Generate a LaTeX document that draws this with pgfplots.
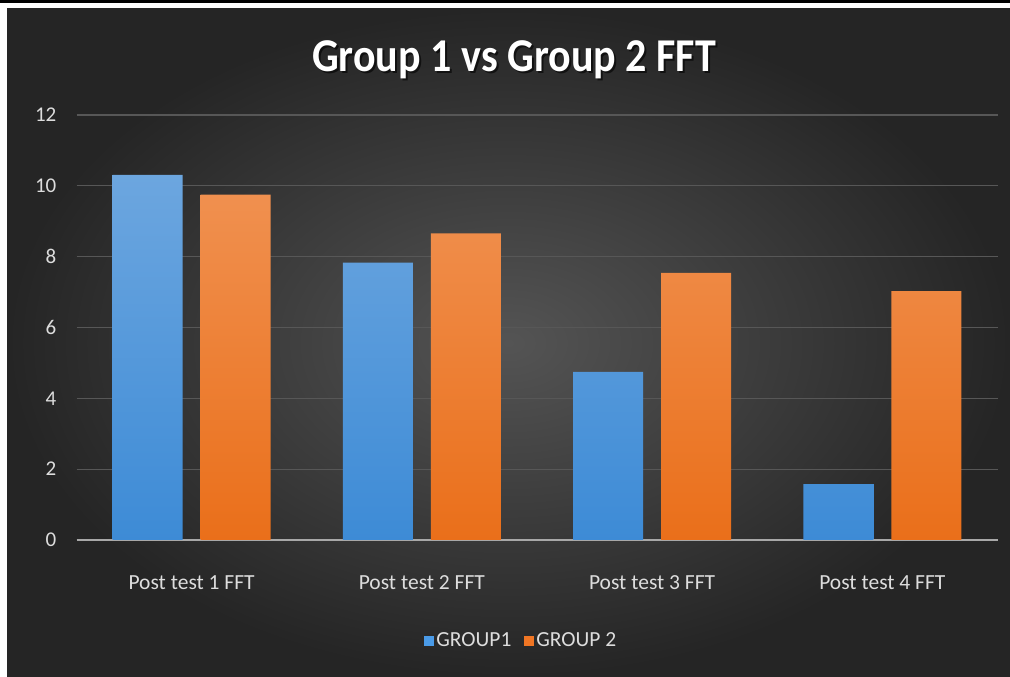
\documentclass[border=0pt]{standalone}
\usepackage{pgfplots}
\pgfplotsset{compat=1.18}
\usepackage{graphicx}
\usepackage{fontspec}
\setmainfont{Carlito}
\definecolor{bgin}{HTML}{545454}
\definecolor{bgout}{HTML}{252525}
\definecolor{bluetop}{HTML}{6CA6DF}
\definecolor{bluebot}{HTML}{3D8BD6}
\definecolor{orgtop}{HTML}{F0904F}
\definecolor{orgbot}{HTML}{EA6F1A}
\definecolor{legblue}{HTML}{4A9BE8}
\definecolor{legorg}{HTML}{F07624}
\definecolor{gridcol}{HTML}{575757}
\definecolor{basecol}{HTML}{A8A8A8}
\definecolor{txtcol}{HTML}{DDDDDD}
\begin{document}
\begin{tikzpicture}[x=1pt,y=1pt]
\useasboundingbox (0,0) rectangle (1010,677);
\fill[white] (0,0) rectangle (1010,677);
\fill[black] (0,674) rectangle (1010,677);
\shade[inner color=bgin, outer color=bgout] (7,0) rectangle (1010,668);
\node[anchor=base, text=black, opacity=0.6, font=\bfseries\fontsize{42}{48}\selectfont] at (516,603) {\scalebox{1}[1.12]{Group 1 vs Group 2 FFT}};
\node[anchor=base, text=white, font=\bfseries\fontsize{42}{48}\selectfont] at (514,605) {\scalebox{1}[1.12]{Group 1 vs Group 2 FFT}};
\begin{axis}[
  at={(76.5pt,137pt)}, anchor=south west,
  scale only axis, width=921pt, height=425pt,
  xmin=-0.5, xmax=3.5, ymin=0, ymax=12,
  xtick={0,1,2,3},
  xticklabels={Post test 1 FFT, Post test 2 FFT, Post test 3 FFT, Post test 4 FFT},
  ytick={0,2,...,12},
  /pgf/number format/assume math mode=true,
  axis x line*=bottom, axis y line*=left,
  y axis line style={draw=none},
  x axis line style={-, draw=basecol, line width=2pt},
  major tick length=0pt,
  ymajorgrids, grid style={draw=gridcol, line width=1.3pt},
  yticklabel style={font=\fontsize{21}{24}\selectfont, text=txtcol, inner sep=0pt, anchor=east, xshift=-20pt},
  xticklabel style={font=\fontsize{21.5}{24}\selectfont, text=txtcol, inner sep=0pt, anchor=base, yshift=-50pt},
  legend image code/.code={\fill[#1] (0pt,-5pt) rectangle (10pt,5pt);},
  legend columns=2,
  legend style={at={(0.483,-0.237)}, anchor=center, draw=none, fill=none,
     font=\fontsize{21.5}{24}\selectfont, text=txtcol,
     /tikz/every even column/.append style={column sep=10pt},
     nodes={inner sep=2.5pt}},
]
\addplot[ybar, bar width=70pt, bar shift=-44pt, draw=none, top color=bluetop, bottom color=bluebot, forget plot]
  coordinates {(0,10.31) (1,7.83) (2,4.75) (3,1.58)};
\addplot[ybar, bar width=70pt, bar shift=44pt, draw=none, top color=orgtop, bottom color=orgbot, forget plot]
  coordinates {(0,9.75) (1,8.66) (2,7.54) (3,7.03)};
\addlegendimage{fill=legblue, draw=none}
\addlegendentry{GROUP1}
\addlegendimage{fill=legorg, draw=none}
\addlegendentry{GROUP\ 2}
\end{axis}
\end{tikzpicture}
\end{document}
